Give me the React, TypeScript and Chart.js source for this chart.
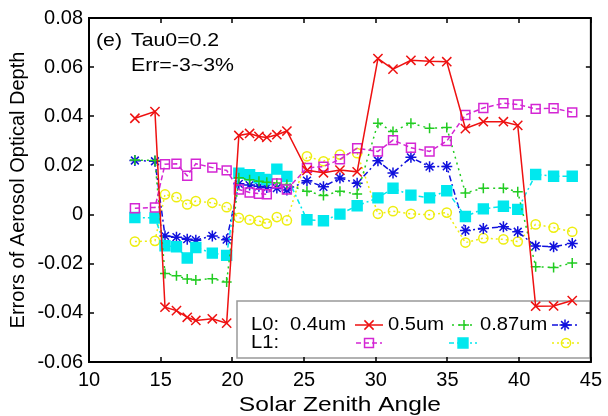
import React, { useEffect, useRef } from 'react';
import { Chart, registerables } from 'chart.js';
import * as helpers from 'chart.js/helpers';

Chart.register(...registerables);

// ---- data ----
const zenithAngles = [13.2, 14.6, 15.3, 16.1, 16.85, 17.45, 18.6, 19.6, 20.45, 21.2, 21.85, 22.4, 23.1, 23.8, 25.2, 26.35, 27.5, 28.7, 30.15, 31.2, 32.45, 33.75, 34.95, 36.25, 37.5, 38.9, 39.9, 41.15, 42.4, 43.7];

const l0_040 = [0.0392, 0.0419, -0.0377, -0.0391, -0.0418, -0.0431, -0.0424, -0.0442, 0.0322, 0.0330, 0.0318, 0.0314, 0.0325, 0.0340, 0.0180, 0.0170, 0.0181, 0.0174, 0.0635, 0.0592, 0.0628, 0.0624, 0.0622, 0.0350, 0.0378, 0.0378, 0.0363, -0.0373, -0.0372, -0.0350];
const l1_040 = [0.0026, 0.0029, 0.0205, 0.0207, 0.0158, 0.0207, 0.0191, 0.0180, 0.0102, 0.0090, 0.0085, 0.0083, 0.0127, 0.0102, 0.0190, 0.0195, 0.0225, 0.0270, 0.0257, 0.0303, 0.0272, 0.0257, 0.0299, 0.0405, 0.0434, 0.0453, 0.0448, 0.0430, 0.0433, 0.0416];
const l0_050 = [0.0222, 0.0220, -0.0240, -0.0249, -0.0262, -0.0266, -0.0261, -0.0274, 0.0150, 0.0142, 0.0136, 0.0132, 0.0128, 0.0122, 0.0095, 0.0078, 0.0095, 0.0084, 0.0372, 0.0338, 0.0372, 0.0351, 0.0354, 0.0088, 0.0107, 0.0107, 0.0093, -0.0212, -0.0215, -0.0197];
const l1_050 = [-0.0012, -0.0014, -0.0127, -0.0131, -0.0177, -0.0134, -0.0157, -0.0166, 0.0168, 0.0162, 0.0150, 0.0143, 0.0185, 0.0155, -0.0021, -0.0025, 0.0002, 0.0036, 0.0068, 0.0107, 0.0079, 0.0068, 0.0097, -0.0008, 0.0023, 0.0034, 0.0021, 0.0163, 0.0156, 0.0156];
const l0_087 = [0.0220, 0.0217, -0.0087, -0.0092, -0.0100, -0.0104, -0.0087, -0.0102, 0.0125, 0.0120, 0.0115, 0.0110, 0.0108, 0.0100, 0.0138, 0.0113, 0.0149, 0.0127, 0.0219, 0.0169, 0.0233, 0.0195, 0.0196, -0.0065, -0.0057, -0.0050, -0.0070, -0.0128, -0.0131, -0.0118];
const l1_087 = [-0.0110, -0.0107, 0.0082, 0.0071, 0.0041, 0.0055, 0.0048, 0.0030, -0.0013, -0.0021, -0.0026, -0.0037, -0.0010, -0.0024, 0.0237, 0.0217, 0.0244, 0.0250, 0.0003, 0.0014, 0.0003, -0.0001, 0.0008, -0.0114, -0.0096, -0.0101, -0.0110, -0.0040, -0.0053, -0.0070];

const xTickValues = [10, 15, 20, 25, 30, 35, 40, 45];
const xTickLabels = ['10', '15', '20', '25', '30', '35', '40', '45'];
const yTickValues = [-0.06, -0.04, -0.02, 0, 0.02, 0.04, 0.06, 0.08];
const yTickLabels = ['-0.06', '-0.04', '-0.02', '0', '0.02', '0.04', '0.06', '0.08'];

const xTitle = 'Solar Zenith Angle';
const yTitle = 'Errors of Aerosol Optical Depth';

const FONT = '"Liberation Sans", Arial, Helvetica, sans-serif';

type Style = { color: string; dash: number[]; point: string; radius: number; filled: boolean; lw: number };

const styles: Style[] = [
  { color: '#ee1111', dash: [], point: 'crossRot', radius: 6.5, filled: false, lw: 1.5 },
  { color: '#d426d4', dash: [5, 3], point: 'rect', radius: 6.3, filled: false, lw: 1.5 },
  { color: '#22cc22', dash: [2, 4], point: 'cross', radius: 5, filled: false, lw: 1.5 },
  { color: '#00e8ee', dash: [5, 3, 2, 3], point: 'rect', radius: 7, filled: true, lw: 1.5 },
  { color: '#1111dd', dash: [6, 3, 2, 3], point: 'star', radius: 5.5, filled: false, lw: 1.5 },
  { color: '#eeee11', dash: [2, 3], point: 'circle', radius: 4.6, filled: false, lw: 1.5 },
];

const seriesValues = [l0_040, l1_040, l0_050, l1_050, l0_087, l1_087];
const seriesNames = ['L0 0.4um', 'L1 0.4um', 'L0 0.5um', 'L1 0.5um', 'L0 0.87um', 'L1 0.87um'];

function drawMarker(ctx: CanvasRenderingContext2D, s: Style, x: number, y: number) {
  ctx.save();
  ctx.setLineDash([]);
  ctx.strokeStyle = s.color;
  ctx.fillStyle = s.filled ? s.color : 'rgba(0,0,0,0)';
  ctx.lineWidth = s.lw;
  helpers.drawPoint(ctx, { pointStyle: s.point, radius: s.radius, rotation: 0, borderWidth: s.lw } as any, x, y);
  ctx.restore();
}

function legendSymbol(ctx: CanvasRenderingContext2D, s: Style, cx: number, cy: number, half: number) {
  ctx.save();
  ctx.strokeStyle = s.color;
  ctx.lineWidth = s.lw;
  ctx.setLineDash(s.dash);
  ctx.beginPath();
  ctx.moveTo(cx - half, cy);
  ctx.lineTo(cx + half, cy);
  ctx.stroke();
  ctx.restore();
  drawMarker(ctx, s, cx, cy);
}

function stretchText(ctx: CanvasRenderingContext2D, text: string, x: number, y: number, size: number, sx: number, align: CanvasTextAlign) {
  ctx.save();
  ctx.fillStyle = '#000';
  ctx.font = size + 'px ' + FONT;
  ctx.textBaseline = 'middle';
  ctx.textAlign = align;
  ctx.translate(x, y);
  ctx.scale(sx, 1);
  ctx.fillText(text, 0, 0);
  ctx.restore();
}

const decor = {
  id: 'decor',
  beforeDatasetsDraw(chart: any) {
    const ctx: CanvasRenderingContext2D = chart.ctx;
    // legend box
    ctx.save();
    ctx.fillStyle = '#ffffff';
    ctx.fillRect(237, 301, 353, 57);
    ctx.strokeStyle = '#999999';
    ctx.lineWidth = 1.5;
    ctx.strokeRect(237, 301, 353, 57);
    ctx.restore();
    const r1 = 325, r2 = 343;
    const sx = 1.06;
    stretchText(ctx, 'L0:', 251, r1, 19, sx, 'left');
    stretchText(ctx, 'L1:', 251, r2, 19, sx, 'left');
    stretchText(ctx, '0.4um', 290, r1, 19, sx, 'left');
    stretchText(ctx, '0.5um', 388, r1, 19, sx, 'left');
    stretchText(ctx, '0.87um', 480, r1, 19, sx, 'left');
    legendSymbol(ctx, styles[0], 369, r1, 14);
    legendSymbol(ctx, styles[1], 369, r2, 13);
    legendSymbol(ctx, styles[2], 464, r1, 12);
    legendSymbol(ctx, styles[3], 463, r2, 14);
    legendSymbol(ctx, styles[4], 565, r1, 13);
    legendSymbol(ctx, styles[5], 566, r2, 14);
  },
  afterDraw(chart: any) {
    const ctx: CanvasRenderingContext2D = chart.ctx;
    const { left, right, top, bottom } = chart.chartArea;
    const xs = chart.scales.x;
    const ys = chart.scales.y;
    ctx.save();
    ctx.strokeStyle = '#000';
    ctx.lineWidth = 2;
    ctx.setLineDash([]);
    ctx.strokeRect(left, top, right - left, bottom - top);
    ctx.lineWidth = 1.5;
    ctx.beginPath();
    const tl = 5;
    xTickValues.forEach((v) => {
      const px = Math.round(xs.getPixelForValue(v));
      ctx.moveTo(px, bottom);
      ctx.lineTo(px, bottom - tl);
      ctx.moveTo(px, top);
      ctx.lineTo(px, top + tl);
    });
    yTickValues.forEach((v) => {
      const py = Math.round(ys.getPixelForValue(v));
      ctx.moveTo(left, py);
      ctx.lineTo(left + tl, py);
      ctx.moveTo(right, py);
      ctx.lineTo(right - tl, py);
    });
    ctx.stroke();
    ctx.restore();
    // annotation
    stretchText(ctx, '(e)', 96, 41, 19, 1.12, 'left');
    stretchText(ctx, 'Tau0=0.2', 131, 41, 19, 1.12, 'left');
    stretchText(ctx, 'Err=-3~3%', 131, 66, 19, 1.12, 'left');
    // x axis title
    stretchText(ctx, xTitle, (left + right) / 2, 405, 21, 1.17, 'center');
  },
};

export default function App() {
  const ref = useRef<HTMLCanvasElement>(null);
  useEffect(() => {
    document.body.style.margin = '0';
    const datasets = seriesValues.map((vals, i) => {
      const s = styles[i];
      return {
        label: seriesNames[i],
        data: zenithAngles.map((x, j) => ({ x, y: vals[j] })),
        borderColor: s.color,
        borderWidth: s.lw,
        borderDash: s.dash,
        backgroundColor: s.filled ? s.color : 'rgba(0,0,0,0)',
        pointStyle: s.point,
        pointRadius: s.radius,
        pointBorderWidth: s.lw,
        pointBorderColor: s.color,
        pointBackgroundColor: s.filled ? s.color : 'rgba(0,0,0,0)',
        fill: false,
        tension: 0,
      };
    });
    const chart = new Chart(ref.current as HTMLCanvasElement, {
      type: 'line',
      data: { datasets: datasets as any },
      options: {
        animation: false,
        responsive: false,
        devicePixelRatio: 1,
        layout: { padding: { left: 0, right: 14, top: 16, bottom: 0 } },
        plugins: { legend: { display: false }, tooltip: { enabled: false } },
        scales: {
          x: {
            type: 'linear',
            min: 10,
            max: 45,
            afterBuildTicks: (scale: any) => {
              scale.ticks = xTickValues.map((v) => ({ value: v }));
            },
            afterFit: (scale: any) => {
              scale.height = 54;
            },
            grid: { display: false, drawTicks: false },
            border: { display: false },
            ticks: {
              color: '#000',
              font: { family: FONT, size: 20 },
              padding: 6,
              maxRotation: 0,
              autoSkip: false,
              callback: (v: any) => {
                const i = xTickValues.indexOf(Number(v));
                return i >= 0 ? xTickLabels[i] : '';
              },
            },
            title: { display: false, text: xTitle },
          },
          y: {
            type: 'linear',
            min: -0.06,
            max: 0.08,
            afterBuildTicks: (scale: any) => {
              scale.ticks = yTickValues.map((v) => ({ value: v }));
            },
            afterFit: (scale: any) => {
              scale.width = 89;
            },
            grid: { display: false, drawTicks: false },
            border: { display: false },
            ticks: {
              color: '#000',
              font: { family: FONT, size: 20 },
              padding: 6,
              autoSkip: false,
              callback: (v: any) => {
                let best = 0;
                yTickValues.forEach((t, i) => {
                  if (Math.abs(t - Number(v)) < Math.abs(yTickValues[best] - Number(v))) best = i;
                });
                return yTickLabels[best];
              },
            },
            title: {
              display: true,
              text: yTitle,
              color: '#000',
              font: { family: FONT, size: 20, lineHeight: 1.0 },
              padding: { top: 8, bottom: 0 },
            },
          },
        },
      },
      plugins: [decor as any],
    });
    return () => chart.destroy();
  }, []);
  return (
    <div style={{ width: 608, height: 416, position: 'relative' }}>
      <canvas ref={ref} width={608} height={416} style={{ display: 'block' }} />
    </div>
  );
}
